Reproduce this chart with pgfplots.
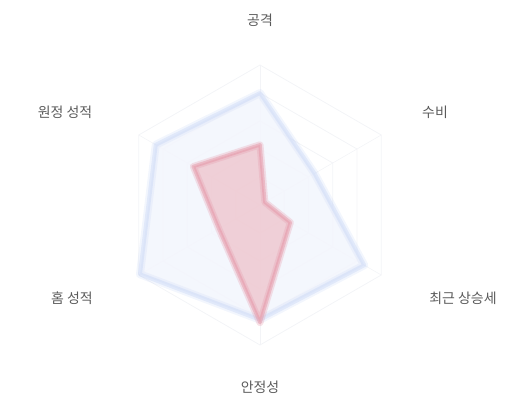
\documentclass[border=0pt]{standalone}
\usepackage{pgfplots}
\pgfplotsset{compat=1.18}
\usepackage{fontspec}
\setmainfont{Noto Sans CJK KR}

\definecolor{gridc}{RGB}{243,244,247}
\definecolor{blueline}{RGB}{198,213,246}
\definecolor{bluefill}{RGB}{243,246,253}
\definecolor{redline}{RGB}{230,152,168}
\definecolor{redfill}{RGB}{239,200,208}
\definecolor{labelc}{RGB}{90,90,90}

% values 0-100, axes clockwise from top:
% 공격, 수비, 최근 상승세, 안정성, 홈 성적, 원정 성적
\begin{document}
\begin{tikzpicture}
\begin{axis}[
  scale only axis,
  width=520bp, height=400bp,
  xmin=-185.71, xmax=185.71,
  ymin=-139.29, ymax=146.43,
  hide axis, clip=false,
  data cs=polar,
  every axis plot/.append style={no markers, line join=round},
]
  % keep the whole frame as the picture
  \path (rel axis cs:0,0) rectangle (rel axis cs:1,1);

  % grid
  \foreach \r in {20,40,60,80,100} {
    \edef\tmp{\noexpand\addplot[gridc, line width=0.8pt] coordinates
      {(90,\r) (30,\r) (-30,\r) (-90,\r) (-150,\r) (150,\r) (90,\r)};}
    \tmp
  }
  \foreach \a in {90,30,-30,-90,-150,150} {
    \edef\tmp{\noexpand\addplot[gridc, line width=0.6pt] coordinates {(\a,0) (\a,100)};}
    \tmp
  }

  % blue series
  \addplot[draw=none, fill=bluefill, fill opacity=0.9] coordinates
    {(90,80) (30,45) (-30,86) (-90,82) (-150,99) (150,86) (90,80)} -- cycle;
  \addplot[blueline, line width=8pt, opacity=0.22] coordinates
    {(90,80) (30,45) (-30,86) (-90,82) (-150,99) (150,86) (90,80)} -- cycle;
  \addplot[blueline, line width=4pt, opacity=0.4] coordinates
    {(90,80) (30,45) (-30,86) (-90,82) (-150,99) (150,86) (90,80)} -- cycle;

  % red series
  \addplot[draw=none, fill=redfill, fill opacity=0.85] coordinates
    {(90,43) (30,4) (-30,25) (-90,84) (-150,34) (150,55) (90,43)} -- cycle;
  \addplot[redline, line width=7pt, opacity=0.28] coordinates
    {(90,43) (30,4) (-30,25) (-90,84) (-150,34) (150,55) (90,43)} -- cycle;
  \addplot[redline, line width=3.5pt, opacity=0.5] coordinates
    {(90,43) (30,4) (-30,25) (-90,84) (-150,34) (150,55) (90,43)} -- cycle;

  % axis labels
  \tikzset{lbl/.style={font=\fontsize{14}{16}\selectfont, text=labelc}}
  \node[lbl] at (axis cs:0,132.1) {공격};
  \node[lbl] at (axis cs:125,66.4) {수비};
  \node[lbl] at (axis cs:145,-66.4) {최근 상승세};
  \node[lbl] at (axis cs:0,-130) {안정성};
  \node[lbl] at (axis cs:-134.3,-66.4) {홈 성적};
  \node[lbl] at (axis cs:-139.3,66.4) {원정 성적};
\end{axis}
\end{tikzpicture}
\end{document}
